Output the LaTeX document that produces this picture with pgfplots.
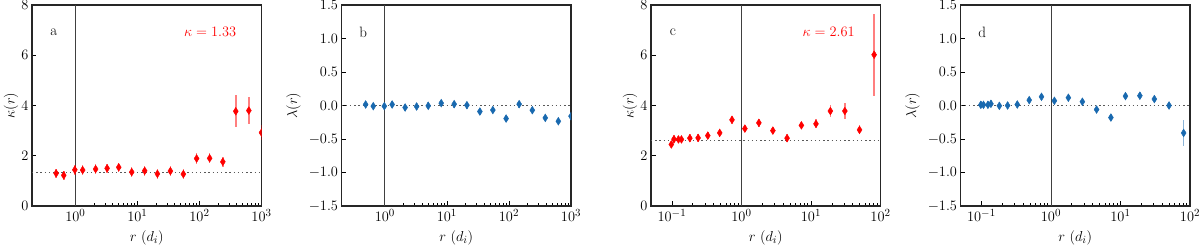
\documentclass[border=0pt]{standalone}
\usepackage{pgfplots}
\pgfplotsset{compat=1.18}
\usepackage{pgfplotstable}
\definecolor{kred}{RGB}{255,0,0}
\definecolor{lblue}{RGB}{25,105,175}
\newcommand{\fs}{\fontsize{15}{18}\selectfont}

\pgfplotstableread{
x y e
0.49 1.30 0.19
0.65 1.22 0.19
0.98 1.44 0.19
1.31 1.43 0.19
2.12 1.47 0.19
3.25 1.50 0.19
5.0 1.54 0.19
8.1 1.35 0.19
13.1 1.40 0.19
21 1.28 0.19
34 1.39 0.19
55 1.27 0.19
90 1.89 0.20
146 1.90 0.20
238 1.76 0.20
385 3.77 0.64
625 3.80 0.53
1000 2.92 0.30
}\tabA

\pgfplotstableread{
x y e
0.49 0.015 0.05
0.65 -0.010 0.05
0.98 -0.010 0.05
1.31 0.015 0.05
2.12 -0.030 0.05
3.25 -0.015 0.05
5.0 -0.005 0.05
8.1 0.035 0.05
13.1 0.020 0.05
21 0.005 0.05
34 -0.090 0.05
55 -0.068 0.05
90 -0.195 0.05
146 0.020 0.05
238 -0.070 0.05
385 -0.185 0.05
625 -0.235 0.05
1000 -0.160 0.05
}\tabB

\pgfplotstableread{
x y e
0.098 2.45 0.15
0.107 2.66 0.15
0.124 2.65 0.15
0.137 2.65 0.15
0.181 2.70 0.15
0.238 2.71 0.15
0.328 2.80 0.15
0.487 2.91 0.15
0.731 3.43 0.15
1.12 3.08 0.15
1.78 3.31 0.15
2.83 3.00 0.15
4.53 2.70 0.15
7.28 3.21 0.15
11.8 3.27 0.18
19.0 3.78 0.25
30.7 3.78 0.32
49.9 3.03 0.18
81 6.02 1.63
}\tabC

\pgfplotstableread{
x y e
0.098 0.010 0.05
0.107 0.010 0.05
0.124 0.010 0.05
0.137 0.025 0.05
0.181 -0.005 0.05
0.238 0.000 0.05
0.328 0.015 0.05
0.487 0.080 0.05
0.731 0.130 0.05
1.12 0.070 0.05
1.78 0.116 0.05
2.83 0.056 0.05
4.53 -0.060 0.05
7.28 -0.180 0.05
11.8 0.140 0.05
19.0 0.146 0.05
30.7 0.096 0.05
49.9 0.000 0.05
81 -0.410 0.19
}\tabD

\pgfplotsset{
  myaxstyle/.style={
    scale only axis, width=229.5pt, height=201pt,
    anchor=south west,
    tick align=inside, tick pos=left,
    major tick length=4.5pt, minor tick length=2.5pt,
    axis line style={line width=1.1pt, black!85},
    every tick/.style={black, line width=0.8pt},
    tick label style={font=\fs},
    label style={font=\fs},
    clip marker paths=true,
    xlabel={$r\ (d_i)$},
    xlabel style={at={(axis description cs:0.5,-0.158)}, anchor=center},
  },
  kapstyle/.style={ymin=0, ymax=8, ytick={0,2,4,6,8}, ylabel={$\kappa(r)$},
    ylabel style={at={(axis description cs:-0.0915,0.5)}, anchor=center}},
  lamstyle/.style={ymin=-1.5, ymax=1.5, ytick={-1.5,-1,-0.5,0,0.5,1,1.5},
    yticklabel style={/pgf/number format/fixed, /pgf/number format/fixed zerofill, /pgf/number format/precision=1},
    ylabel={$\lambda(r)$},
    ylabel style={at={(axis description cs:-0.209,0.5)}, anchor=center}},
  abrange/.style={xmin=0.2, xmax=1000, xtick={1,10,100,1000}},
  cdrange/.style={xmin=0.05, xmax=100, xtick={0.1,1,10,100}},
  vlinestyle/.style={black!75, line width=0.9pt},
  hlinestyle/.style={black!65, line width=1.4pt, dash pattern=on 1.4pt off 2.8pt},
}

\begin{document}
\begin{tikzpicture}
\path[use as bounding box] (0,0) rectangle (1200pt,245pt);

\begin{semilogxaxis}[myaxstyle, kapstyle, abrange, at={(32pt,39pt)}]
\addplot[vlinestyle] coordinates {(1,0) (1,8)};
\addplot[hlinestyle] coordinates {(0.2,1.33) (1000,1.33)};
\addplot[kred, only marks, mark=diamond*, mark size=3.9pt, mark options={xscale=0.85},
  error bars/.cd, y dir=both, y explicit, error mark=none,
  error bar style={line width=1.5pt, kred, opacity=0.5}]
  table[x=x, y=y, y error=e] {\tabA};
\node[font=\fs, anchor=center] at (axis description cs:0.095,0.865) {a};
\node[font=\fs, anchor=center, text=kred] at (axis description cs:0.776,0.864) {$\kappa = 1.33$};
\end{semilogxaxis}

\begin{semilogxaxis}[myaxstyle, lamstyle, abrange, at={(341.5pt,39pt)}]
\addplot[vlinestyle] coordinates {(1,-1.5) (1,1.5)};
\addplot[hlinestyle] coordinates {(0.2,0) (1000,0)};
\addplot[lblue, only marks, mark=diamond*, mark size=3.9pt, mark options={xscale=0.85},
  error bars/.cd, y dir=both, y explicit, error mark=none,
  error bar style={line width=1.5pt, lblue, opacity=0.5}]
  table[x=x, y=y, y error=e] {\tabB};
\node[font=\fs, anchor=center] at (axis description cs:0.095,0.865) {b};
\end{semilogxaxis}

\begin{semilogxaxis}[myaxstyle, kapstyle, cdrange, at={(651pt,39pt)}]
\addplot[vlinestyle] coordinates {(1,0) (1,8)};
\addplot[hlinestyle] coordinates {(0.05,2.61) (100,2.61)};
\addplot[kred, only marks, mark=diamond*, mark size=3.9pt, mark options={xscale=0.85},
  error bars/.cd, y dir=both, y explicit, error mark=none,
  error bar style={line width=1.5pt, kred, opacity=0.5}]
  table[x=x, y=y, y error=e] {\tabC};
\node[font=\fs, anchor=center] at (axis description cs:0.095,0.865) {c};
\node[font=\fs, anchor=center, text=kred] at (axis description cs:0.774,0.864) {$\kappa = 2.61$};
\end{semilogxaxis}

\begin{semilogxaxis}[myaxstyle, lamstyle, cdrange, at={(960.5pt,39pt)}]
\addplot[vlinestyle] coordinates {(1,-1.5) (1,1.5)};
\addplot[hlinestyle] coordinates {(0.05,0) (100,0)};
\addplot[lblue, only marks, mark=diamond*, mark size=3.9pt, mark options={xscale=0.85},
  error bars/.cd, y dir=both, y explicit, error mark=none,
  error bar style={line width=1.5pt, lblue, opacity=0.5}]
  table[x=x, y=y, y error=e] {\tabD};
\node[font=\fs, anchor=center] at (axis description cs:0.095,0.865) {d};
\end{semilogxaxis}
\end{tikzpicture}
\end{document}
